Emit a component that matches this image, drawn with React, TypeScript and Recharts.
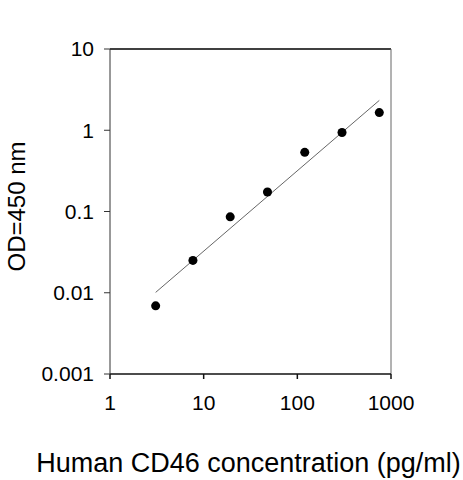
import {
  ReferenceLine,
  Scatter,
  ScatterChart,
  XAxis,
  YAxis,
  ZAxis,
  Label,
} from 'recharts'

// concentrations (pg/ml), 2.5-fold dilution series
const concentrations = [3.072, 7.68, 19.2, 48, 120, 300, 750]
// measured OD at 450 nm
const odValues = [0.0069, 0.025, 0.086, 0.174, 0.535, 0.94, 1.65]

// fitted straight line on log-log axes, read at its two ends
const fitX = [3.072, 750]
const fitY = [0.0101, 2.33]

const xTicks = [1, 10, 100, 1000]
const yTicks = [0.001, 0.01, 0.1, 1, 10]

const FONT = '"Liberation Sans", Arial, sans-serif'

const points = concentrations.map((x, i) => ({ x, y: odValues[i] }))
const fitLine = fitX.map((x, i) => ({ x, y: fitY[i] }))

export default function App() {
  return (
    <div style={{ position: 'absolute', left: 0, top: 0, width: 463, height: 480, background: '#fff' }}>
      <ScatterChart
        width={463}
        height={480}
        margin={{ top: 49, right: 72, bottom: 0, left: 0 }}
        style={{ fontFamily: FONT }}
      >
        <XAxis
          type="number"
          dataKey="x"
          scale="log"
          domain={[1, 1000]}
          ticks={xTicks}
          allowDataOverflow
          height={106}
          tickSize={5}
          tickMargin={16}
          stroke="#111"
          strokeWidth={1.5}
          tick={{ fill: '#000', fontSize: 21, fontFamily: FONT }}
        >
          <Label
            value="Human CD46 concentration (pg/ml)"
            position="insideBottom"
            offset={8}
            dx={-2}
            style={{ fill: '#000', fontSize: 27, fontFamily: FONT }}
          />
        </XAxis>
        <YAxis
          type="number"
          dataKey="y"
          scale="log"
          domain={[0.001, 10]}
          ticks={yTicks}
          allowDataOverflow
          width={110}
          tickSize={6}
          tickMargin={10}
          stroke="#333"
          tick={{ fill: '#000', fontSize: 21, fontFamily: FONT }}
          tickFormatter={(v: number) => String(v)}
        >
          <Label
            value="OD=450 nm"
            angle={-90}
            position="insideLeft"
            offset={16}
            dy={-5}
            style={{ fill: '#000', fontSize: 24, fontFamily: FONT, textAnchor: 'middle' }}
          />
        </YAxis>
        <ZAxis range={[50, 50]} />
        <ReferenceLine y={10} stroke="#000" strokeWidth={1.6} />
        <ReferenceLine x={1000} stroke="#666" strokeWidth={1} />
        <Scatter
          data={fitLine}
          line={{ stroke: '#666', strokeWidth: 1 }}
          shape={() => <g />}
          isAnimationActive={false}
        />
        <Scatter data={points} fill="#000" isAnimationActive={false} />
      </ScatterChart>
    </div>
  )
}
